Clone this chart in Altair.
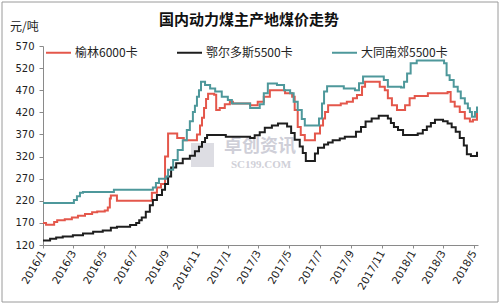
import altair as alt
import pandas as pd

# ---------------- data ----------------
start_date = "2016-01-01"

series_names = ["榆林6000卡", "鄂尔多斯5500卡", "大同南郊5500卡"]
series_colors = ["#E4574B", "#1E1E1E", "#4E989B"]

# days since 2016-01-01 at which the price changes, and the new price (元/吨)
yulin_days = [0, 6, 22, 28, 43, 57, 69, 83, 97, 107, 122, 128, 132, 134, 146, 215, 225, 233,
              241, 247, 265, 278, 304, 310, 314, 318, 322, 326, 338, 342, 349, 359, 369, 375,
              409, 424, 436, 448, 478, 492, 497, 503, 509, 517, 537, 547, 553, 557, 563, 588,
              600, 612, 620, 630, 636, 665, 675, 681, 689, 699, 715, 724, 734, 760, 799, 805,
              813, 823, 833, 843, 849, 857]
yulin_vals = [170, 166, 172, 176, 178, 182, 186, 190, 194, 196, 198, 205, 225, 232, 220, 238, 250, 258,
              320, 372, 362, 357, 370, 390, 408, 430, 450, 462, 460, 425, 430, 438, 444, 440,
              436, 444, 455, 470, 463, 455, 425, 387, 369, 357, 372, 390, 406, 421, 436, 440,
              444, 452, 459, 478, 489, 478, 470, 452, 436, 425, 436, 452, 457, 463, 466, 444,
              433, 421, 406, 399, 403, 421]

erdos_days = [0, 14, 26, 39, 59, 79, 99, 118, 134, 146, 172, 184, 190, 195, 203, 211, 217, 225,
              235, 241, 247, 253, 263, 276, 290, 300, 308, 314, 320, 324, 361, 409, 418, 428,
              438, 452, 464, 482, 490, 497, 507, 513, 519, 537, 543, 555, 563, 572, 586, 596,
              618, 628, 637, 649, 663, 681, 687, 693, 701, 711, 740, 750, 758, 766, 774, 790,
              799, 807, 815, 823, 831, 837, 845, 857]
erdos_vals = [130, 134, 137, 139, 142, 146, 150, 153, 159, 161, 165, 170, 176, 182, 195, 210, 222, 233,
              245, 258, 275, 295, 305, 315, 322, 332, 342, 353, 362, 369, 365, 362, 368, 375,
              385, 390, 395, 388, 373, 358, 343, 328, 310, 327, 340, 347, 352, 357, 361, 365,
              376, 387, 399, 406, 412, 406, 396, 387, 380, 369, 372, 380, 388, 396, 403, 400,
              395, 386, 376, 362, 345, 325, 321, 331]

datong_days = [0, 61, 67, 73, 79, 140, 217, 223, 229, 243, 247, 257, 266, 276, 284, 290, 296, 300,
               304, 308, 312, 320, 330, 340, 353, 365, 373, 409, 428, 436, 444, 462, 476, 488,
               495, 503, 511, 517, 545, 551, 555, 561, 594, 616, 624, 632, 673, 681, 707, 713,
               719, 726, 738, 792, 797, 803, 811, 819, 825, 833, 839, 843, 847, 853, 857]
datong_vals = [215, 222, 230, 238, 240, 245, 250, 260, 270, 275, 290, 312, 335, 357, 380, 400, 421, 435,
               455, 470, 489, 482, 474, 467, 455, 448, 440, 430, 438, 463, 485, 482, 470, 463,
               444, 425, 405, 390, 406, 440, 467, 479, 474, 470, 486, 501, 493, 478, 476, 489,
               508, 531, 537, 531, 504, 493, 478, 467, 452, 440, 429, 421, 410, 421, 433]

y_ticks = [120, 170, 220, 270, 320, 370, 420, 470, 520, 570]
x_tick_months = [(2016, 1), (2016, 3), (2016, 5), (2016, 7), (2016, 9), (2016, 11),
                 (2017, 1), (2017, 3), (2017, 5), (2017, 7), (2017, 9), (2017, 11),
                 (2018, 1), (2018, 3), (2018, 5)]

title_text = "国内动力煤主产地煤价走势"
unit_text = "元/吨"
watermark_cn = "卓创资讯"
watermark_en = "SC199.COM"

# ---------------- build table ----------------
frames = []
for name, days, vals in [(series_names[0], yulin_days, yulin_vals),
                         (series_names[1], erdos_days, erdos_vals),
                         (series_names[2], datong_days, datong_vals)]:
    frames.append(pd.DataFrame({
        "date": pd.Timestamp(start_date) + pd.to_timedelta(days, unit="D"),
        "price": vals,
        "series": name,
    }))
df = pd.concat(frames, ignore_index=True)
df["date"] = df["date"].dt.strftime("%Y-%m-%dT00:00:00")

CJK = "Noto Sans CJK SC"
NUM = "DejaVu Sans"

x_enc = alt.X(
    "date:T",
    scale=alt.Scale(domain=[alt.DateTime(year=2016, month=1, date=1),
                            alt.DateTime(year=2018, month=5, date=9)]),
    axis=alt.Axis(
        values=[alt.DateTime(year=y, month=m, date=1) for y, m in x_tick_months],
        format="%Y/%-m", labelAngle=300, labelAlign="right", labelBaseline="middle",
        labelFont=NUM, labelFontSize=10.5, labelColor="#222222", labelPadding=3,
        tickSize=3, tickColor="#8a8a8a", domainColor="#8a8a8a", grid=False, title=None,
        labelOverlap=False,
    ),
)
y_enc = alt.Y(
    "price:Q",
    scale=alt.Scale(domain=[120, 570], nice=False, zero=False),
    axis=alt.Axis(
        values=y_ticks, labelFont=NUM, labelFontSize=10, labelColor="#222222",
        tickSize=4, labelPadding=5, tickColor="#8a8a8a", domainColor="#8a8a8a",
        grid=False, title=None,
    ),
)

lines = alt.Chart(df).mark_line(interpolate="step-after", strokeWidth=2).encode(
    x=x_enc,
    y=y_enc,
    color=alt.Color(
        "series:N",
        scale=alt.Scale(domain=series_names, range=series_colors),
        legend=alt.Legend(
            title=None, orient="none", legendX=2, legendY=-7, direction="horizontal",
            symbolType="stroke", symbolSize=625, symbolStrokeWidth=2,
            labelFont=CJK, labelFontSize=12, labelColor="#222222",
            columnPadding=35, labelOffset=3, padding=0,
        ),
    ),
    order=alt.Order("series:N"),
)

one = pd.DataFrame({"k": [0]})

border = alt.Chart(one).mark_rect(fill="white", fillOpacity=0, stroke="#9a9a9a", strokeWidth=1).encode(
    x=alt.value(-41), x2=alt.value(455), y=alt.value(-44), y2=alt.value(256)
)

logo = alt.Chart(one).mark_rect(fill="#d4d4dc", opacity=0.8).encode(
    x=alt.value(148), x2=alt.value(171), y=alt.value(97), y2=alt.value(121)
)

wm1 = alt.Chart(pd.DataFrame({"t": [watermark_cn]})).mark_text(
    font=CJK, fontSize=18, fontWeight="bold", color="#cfcfd8", align="center", baseline="middle"
).encode(text="t:N", x=alt.value(217), y=alt.value(101))

wm2 = alt.Chart(pd.DataFrame({"t": [watermark_en]})).mark_text(
    font="Liberation Serif", fontSize=11, fontWeight="bold", color="#d0d0d8", align="center", baseline="middle"
).encode(text="t:N", x=alt.value(218), y=alt.value(119))

title = alt.Chart(pd.DataFrame({"t": [title_text]})).mark_text(
    font=CJK, fontSize=15, fontWeight="bold", color="#111111", align="center", baseline="middle"
).encode(text="t:N", x=alt.value(206), y=alt.value(-26))

unit = alt.Chart(pd.DataFrame({"t": [unit_text]})).mark_text(
    font=CJK, fontSize=12, color="#222222", align="left", baseline="middle"
).encode(text="t:N", x=alt.value(-33), y=alt.value(-19))

chart = alt.layer(border, logo, wm1, wm2, lines, title, unit).properties(
    width=435, height=199,
    autosize=alt.AutoSizeParams(type="none"),
    padding={"left": 43, "top": 46, "right": 22, "bottom": 61},
    background="white",
).configure_view(stroke=None)

chart.save("out.html", embed_options={"renderer": "svg", "actions": False})
